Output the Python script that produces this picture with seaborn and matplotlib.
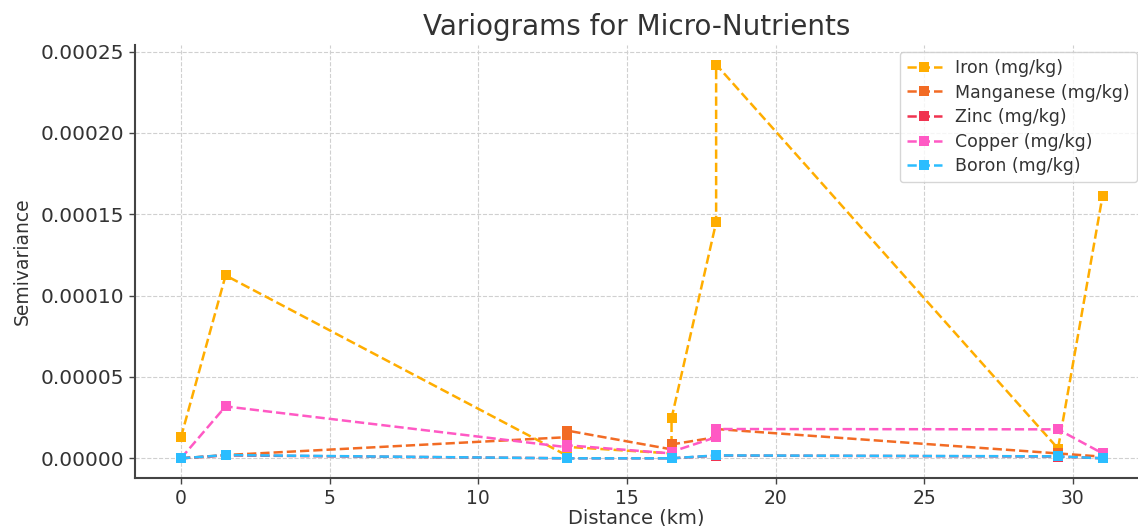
import matplotlib
matplotlib.use("Agg")
import matplotlib.pyplot as plt
import seaborn as sns
import pandas as pd

# ---- data ----
distance = [0, 1.5, 13, 13, 16.5, 16.5, 18, 18, 29.5, 31]
iron = [0.000013, 0.0001124, 0.0000015, 0.000007, 0.000003, 0.0000246,
        0.000145, 0.000242, 0.000006, 0.0001615]
manganese = [0.0, 0.000002, 0.000013, 0.000017, 0.0000055, 0.0000085,
             0.000013, 0.000018, 0.000003, 0.000001]
zinc = [0.0, 0.0000018, 0.0, 0.0, 0.0, 0.0,
        0.0000016, 0.0000017, 0.0000011, 0.0]
copper = [0.0, 0.0000319, 0.0000068, 0.000008, 0.000003, 0.000004,
          0.000013, 0.000018, 0.0000178, 0.000003]
boron = [0.0, 0.000002, 0.0, 0.0, 0.0, 0.0,
         0.0000018, 0.0000018, 0.0000012, 0.0]

series_names = ["Iron (mg/kg)", "Manganese (mg/kg)", "Zinc (mg/kg)",
                "Copper (mg/kg)", "Boron (mg/kg)"]
series_values = [iron, manganese, zinc, copper, boron]
colors = ["#FFAD00", "#F26B24", "#F03350", "#FF59C4", "#2BBDFF"]

sns.set_theme(style="whitegrid")
plt.rcParams["font.family"] = ["DejaVu Sans"]
plt.rcParams["text.color"] = "#333333"
plt.rcParams["axes.labelcolor"] = "#333333"
plt.rcParams["xtick.color"] = "#333333"
plt.rcParams["ytick.color"] = "#333333"

fig = plt.figure(figsize=(11.38, 5.26), dpi=100)
ax = fig.add_axes([135 / 1138, 1 - 478 / 526, 1 - 135 / 1138, (478 - 45) / 526])

for name, vals, col in zip(series_names, series_values, colors):
    df = pd.DataFrame({"Distance": distance, "Semivariance": vals})
    sns.lineplot(data=df, x="Distance", y="Semivariance", ax=ax,
                 estimator=None, sort=False, color=col, marker="s",
                 markersize=7, markeredgewidth=0, linestyle="--",
                 linewidth=1.8, label=name)

ax.set_xlim(-1.547, 32.19)
ax.set_ylim(-0.0000121, 0.000254)
ax.set_xticks([0, 5, 10, 15, 20, 25, 30])
ax.set_yticks([0, 0.00005, 0.0001, 0.00015, 0.0002, 0.00025])
ax.set_yticklabels(["0.00000", "0.00005", "0.00010", "0.00015", "0.00020", "0.00025"])

ax.grid(True, linestyle="--", color="#d0d0d0", linewidth=0.8)
for side in ["top", "right"]:
    ax.spines[side].set_visible(False)
for side in ["left", "bottom"]:
    ax.spines[side].set_visible(True)
    ax.spines[side].set_color("#444444")
    ax.spines[side].set_linewidth(1.5)
ax.tick_params(axis="y", labelsize=14.5, length=4, width=1, color="#444444", left=True, pad=4)
ax.tick_params(axis="x", labelsize=13.5, length=4, width=1, color="#444444", bottom=True, pad=4)

ax.set_title("Variograms for Micro-Nutrients", fontsize=20, pad=7)
ax.set_xlabel("Distance (km)", fontsize=14, labelpad=0)
ax.set_ylabel("Semivariance", fontsize=13.5, labelpad=6)

leg = ax.legend(loc="upper right", bbox_to_anchor=(1137 / 1138, 1 - 52 / 526),
                bbox_transform=fig.transFigure, borderaxespad=0,
                fontsize=12.5, frameon=True, fancybox=True, labelspacing=0.38)
leg.get_frame().set_edgecolor("#cccccc")

fig.savefig("out.png", dpi=100)
